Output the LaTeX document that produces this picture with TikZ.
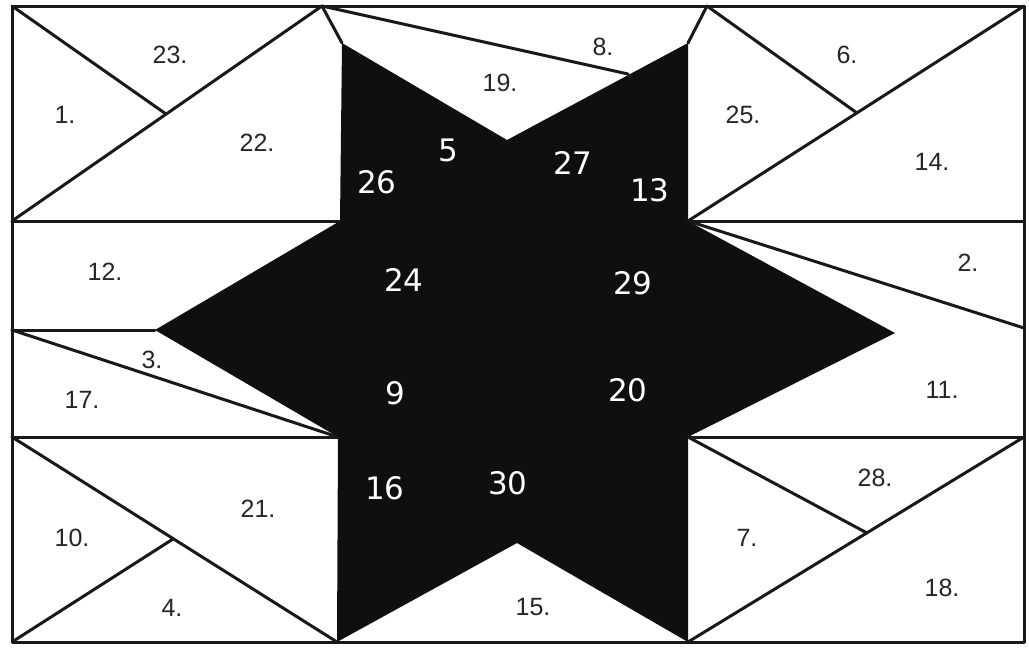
\documentclass[tikz,border=0pt]{standalone}
\usepackage{fontspec}
\newfontfamily\blab{Liberation Sans}
\newfontfamily\wlab{DejaVu Sans}
\begin{document}
\begin{tikzpicture}[x=1pt,y=-1pt,
  edge/.style={line width=3pt, line join=round, line cap=round, draw=black!90},
  bl/.style={inner sep=0pt, font=\blab\fontsize{25}{29}\selectfont, text=black!85},
  wl/.style={inner sep=0pt, font=\wlab\fontsize{31}{36}\selectfont, text=white}]
\useasboundingbox (0,0) rectangle (1029,648);
\fill[white] (0,0) rectangle (1029,648);
% corners
\coordinate (tl) at (12,6);
\coordinate (tr) at (1024,6);
\coordinate (bl) at (12,642);
\coordinate (br) at (1024,642);
\coordinate (l1) at (12,221);
\coordinate (l2) at (12,330);
\coordinate (l3) at (12,437);
\coordinate (r1) at (1024,221);
\coordinate (r2) at (1024,328);
\coordinate (r3) at (1024,437);
\coordinate (t1) at (322,6);
\coordinate (t2) at (707,6);
% star
\coordinate (A) at (342,43);
\coordinate (B) at (507,140);
\coordinate (C) at (688,43);
\coordinate (D) at (688,221);
\coordinate (E) at (895,333);
\coordinate (F) at (688,437);
\coordinate (G) at (688,642);
\coordinate (H) at (517,543);
\coordinate (I) at (337,642);
\coordinate (J) at (338,437);
\coordinate (K) at (155,330);
\coordinate (L) at (340,221);
% inner meeting points
\coordinate (m1) at (166,114);
\coordinate (m2) at (628,74);
\coordinate (m3) at (857,113);
\coordinate (m4) at (173,539);
\coordinate (m5) at (867,533);
\fill[black!94] (A) -- (B) -- (C) -- (D) -- (E) -- (F) -- (G) -- (H) -- (I) -- (J) -- (K) -- (L) -- cycle;
\draw[edge] (tl) rectangle (br);
\draw[edge] (l1) -- (L);
\draw[edge] (D) -- (r1);
\draw[edge] (l2) -- (K);
\draw[edge] (l3) -- (J);
\draw[edge] (F) -- (r3);
\draw[edge] (tl) -- (m1);
\draw[edge] (l1) -- (t1);
\draw[edge] (t1) -- (A);
\draw[edge] (t1) -- (m2);
\draw[edge] (t2) -- (C);
\draw[edge] (t2) -- (m3);
\draw[edge] (D) -- (tr);
\draw[edge] (D) -- (r2);
\draw[edge] (l2) -- (J);
\draw[edge] (l3) -- (I);
\draw[edge] (bl) -- (m4);
\draw[edge] (F) -- (m5);
\draw[edge] (G) -- (r3);
% black labels
\node[bl] (n23) at (170,55) {23.};
\node[bl] (n1) at (65,115) {1.};
\node[bl] (n22) at (257,143) {22.};
\node[bl] (n19) at (500,83) {19.};
\node[bl] (n8) at (603,47) {8.};
\node[bl] (n6) at (847,55) {6.};
\node[bl] (n25) at (743,115) {25.};
\node[bl] (n14) at (932,162) {14.};
\node[bl] (n12) at (105,272) {12.};
\node[bl] (n3) at (152,360) {3.};
\node[bl] (n17) at (82,400) {17.};
\node[bl] (n2) at (968,263) {2.};
\node[bl] (n11) at (942,390) {11.};
\node[bl] (n21) at (258,509) {21.};
\node[bl] (n10) at (72,538) {10.};
\node[bl] (n4) at (172,608) {4.};
\node[bl] (n15) at (533,607) {15.};
\node[bl] (n28) at (875,478) {28.};
\node[bl] (n7) at (747,538) {7.};
\node[bl] (n18) at (942,588) {18.};
% white labels
\node[wl] (n5) at (448,150) {5};
\node[wl] (n26) at (377,182) {26};
\node[wl] (n27) at (573,163) {27};
\node[wl] (n13) at (650,190) {13};
\node[wl] (n24) at (404,280) {24};
\node[wl] (n29) at (633,283) {29};
\node[wl] (n9) at (395,393) {9};
\node[wl] (n20) at (628,390) {20};
\node[wl] (n16) at (385,488) {16};
\node[wl] (n30) at (508,483) {30};
\end{tikzpicture}
\end{document}
